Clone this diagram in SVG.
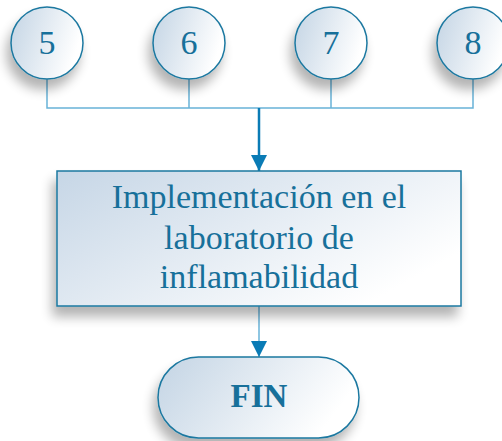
<svg xmlns="http://www.w3.org/2000/svg" width="502" height="441" viewBox="0 0 502 441">
<defs>
<linearGradient id="gc" x1="0" y1="0" x2="1" y2="0.3">
<stop offset="0" stop-color="#c3d4e4"/>
<stop offset="1" stop-color="#ffffff"/>
</linearGradient>
<linearGradient id="gb" x1="0" y1="0" x2="1" y2="0.6">
<stop offset="0" stop-color="#c6d6e6"/>
<stop offset="1" stop-color="#ffffff"/>
</linearGradient>
<filter id="sh" x="-30%" y="-30%" width="160%" height="170%">
<feGaussianBlur in="SourceAlpha" stdDeviation="6"/>
<feOffset dx="-4" dy="10" result="b"/>
<feComponentTransfer><feFuncA type="linear" slope="0.3"/></feComponentTransfer>
<feMerge><feMergeNode/><feMergeNode in="SourceGraphic"/></feMerge>
</filter>
<marker id="ah" markerWidth="16" markerHeight="16" viewBox="0 0 16 16" refX="16" refY="8" orient="auto" markerUnits="userSpaceOnUse">
<path d="M0,0 L16,8 L0,16 Z" fill="#0a7bb5"/>
</marker>
</defs>
<style>
.node{fill:url(#gc);stroke:#1b78a0;stroke-width:1.5;filter:url(#sh)}
.box{fill:url(#gb);stroke:#1b78a0;stroke-width:1.5;filter:url(#sh)}
.t{fill:#17709a;text-anchor:middle;font-family:'Liberation Serif','DejaVu Serif',serif}
.thin{stroke:#68b3d8;stroke-width:1.5;fill:none}
.thick{stroke:#0a7bb5;stroke-width:2.5;fill:none}
</style>
<g id="connectors">
<path class="thin" d="M47,79 V108 H473 V79 M189,79 V108 M331,79 V108"/>
<path class="thick" d="M259,108 V171" marker-end="url(#ah)"/>
<path class="thin" d="M259,306 V357" marker-end="url(#ah)"/>
</g>
<g id="n5"><circle class="node" cx="47" cy="43" r="36"/><text class="t" x="47" y="54" font-size="34">5</text></g>
<g id="n6"><circle class="node" cx="189" cy="43" r="36"/><text class="t" x="189" y="54" font-size="34">6</text></g>
<g id="n7"><circle class="node" cx="331" cy="43" r="36"/><text class="t" x="331" y="54" font-size="34">7</text></g>
<g id="n8"><circle class="node" cx="473" cy="43" r="36"/><text class="t" x="473" y="54" font-size="34">8</text></g>
<g id="impl">
<rect class="box" x="57" y="171" width="404" height="135"/>
<text class="t" font-size="34"><tspan x="259" y="208">Implementación en el</tspan><tspan x="259" y="249">laboratorio de</tspan><tspan x="259" y="288">inflamabilidad</tspan></text>
</g>
<g id="fin">
<rect class="node" x="158" y="357" width="201" height="81" rx="40.5"/>
<text class="t" x="259" y="407" font-size="33" font-weight="bold">FIN</text>
</g>
</svg>
